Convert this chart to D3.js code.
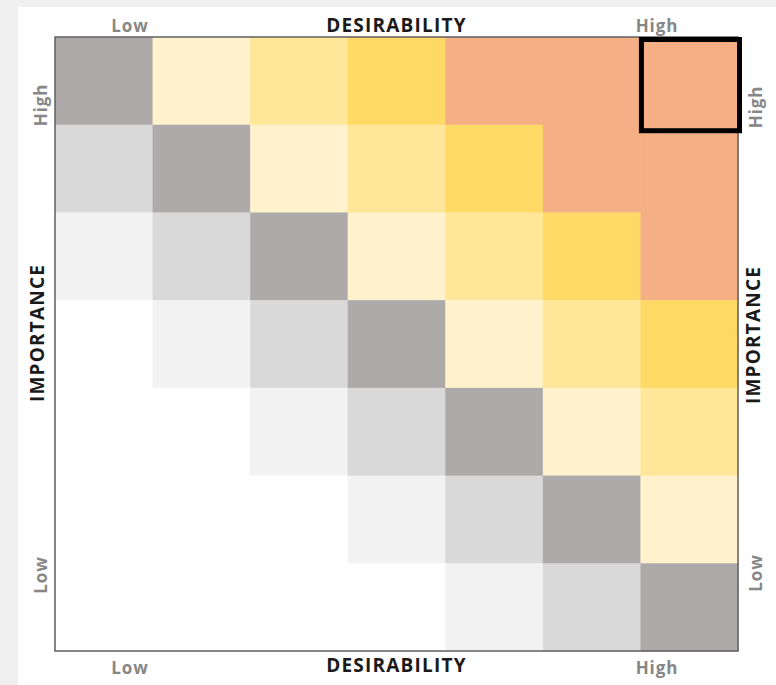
<!DOCTYPE html>
<html>
<head>
<meta charset="utf-8">
<script src="https://cdn.jsdelivr.net/npm/d3@7"></script>
<style>
  body { margin: 0; background: #f0f0f0; }
  svg { display: block; }
  text { font-family: "Open Sans", "Liberation Sans", sans-serif; }
</style>
</head>
<body>
<svg width="776" height="685"></svg>
<script>
// desirability runs low -> high left to right, importance high -> low top to bottom
const desirability = ['D1', 'D2', 'D3', 'D4', 'D5', 'D6', 'D7'];
const importance = ['I7', 'I6', 'I5', 'I4', 'I3', 'I2', 'I1'];

// colour level of each cell, one row per importance step (top row first)
const row0 = [0, 1, 2, 3, 4, 4, 4];
const row1 = [-1, 0, 1, 2, 3, 4, 4];
const row2 = [-2, -1, 0, 1, 2, 3, 4];
const row3 = [-3, -2, -1, 0, 1, 2, 3];
const row4 = [-3, -3, -2, -1, 0, 1, 2];
const row5 = [-3, -3, -3, -2, -1, 0, 1];
const row6 = [-3, -3, -3, -3, -2, -1, 0];

const levels = [-3, -2, -1, 0, 1, 2, 3, 4];
const levelColors = ['#ffffff', '#f2f2f2', '#d9d9d9', '#aeaaaa', '#fff2cc', '#ffe699', '#ffd966', '#f4b084'];

const highlight = {col: 'D7', row: 'I7'};

const svg = d3.select('svg');

svg.append('rect')
  .attr('x', 18).attr('y', 7)
  .attr('width', 776 - 18).attr('height', 685 - 7)
  .attr('fill', '#ffffff');

const gLeft = 55, gRight = 738, gTop = 37, gBottom = 651;

const x = d3.scaleBand().domain(desirability).range([gLeft, gRight]);
const y = d3.scaleBand().domain(importance).range([gTop, gBottom]);
const color = d3.scaleOrdinal().domain(levels).range(levelColors);

const rows = [row0, row1, row2, row3, row4, row5, row6];
const cells = [];
rows.forEach((r, i) => {
  r.forEach((v, j) => {
    cells.push({col: desirability[j], row: importance[i], level: v});
  });
});

svg.append('g')
  .selectAll('rect')
  .data(cells)
  .enter()
  .append('rect')
  .attr('x', d => x(d.col))
  .attr('y', d => y(d.row))
  .attr('width', x.bandwidth() + 0.5)
  .attr('height', y.bandwidth() + 0.5)
  .attr('fill', d => color(d.level));

// frame
svg.append('rect')
  .attr('x', gLeft).attr('y', gTop)
  .attr('width', gRight - gLeft).attr('height', gBottom - gTop)
  .attr('fill', 'none')
  .attr('stroke', '#5f5f5f')
  .attr('stroke-width', 1.5);

// box round the top right cell
svg.append('rect')
  .attr('x', x(highlight.col) + 1)
  .attr('y', y(highlight.row) + 2.5)
  .attr('width', x.bandwidth() + 0.5)
  .attr('height', y.bandwidth() + 3.5)
  .attr('fill', 'none')
  .attr('stroke', '#000')
  .attr('stroke-width', 5);

function label(tx, ty, txt, opts) {
  const t = svg.append('text')
    .attr('text-anchor', 'middle')
    .attr('font-size', opts.size)
    .attr('font-weight', opts.weight)
    .attr('letter-spacing', opts.spacing)
    .attr('fill', opts.fill)
    .text(txt);
  if (opts.rotate) {
    t.attr('transform', `translate(${tx},${ty}) rotate(-90)`);
  } else {
    t.attr('x', tx).attr('y', ty);
  }
}

const title = {size: '19px', weight: 'bold', fill: '#1a1a1a', spacing: 1.2};
const tick = {size: '17px', weight: 'bold', fill: '#878787', spacing: 0.9};
const cx = (gLeft + gRight) / 2;
const rot = o => Object.assign({rotate: true}, o);

label(cx, 32, 'DESIRABILITY', title);
label(cx, 672, 'DESIRABILITY', title);
label(130, 32, 'Low', tick);
label(657, 32, 'High', tick);
label(130, 674, 'Low', tick);
label(657, 674, 'High', tick);

label(44, 333, 'IMPORTANCE', rot(title));
label(760, 335, 'IMPORTANCE', rot(title));
label(47, 105, 'High', rot(tick));
label(47, 575, 'Low', rot(tick));
label(762, 107, 'High', rot(tick));
label(762, 573, 'Low', rot(tick));
</script>
</body>
</html>
